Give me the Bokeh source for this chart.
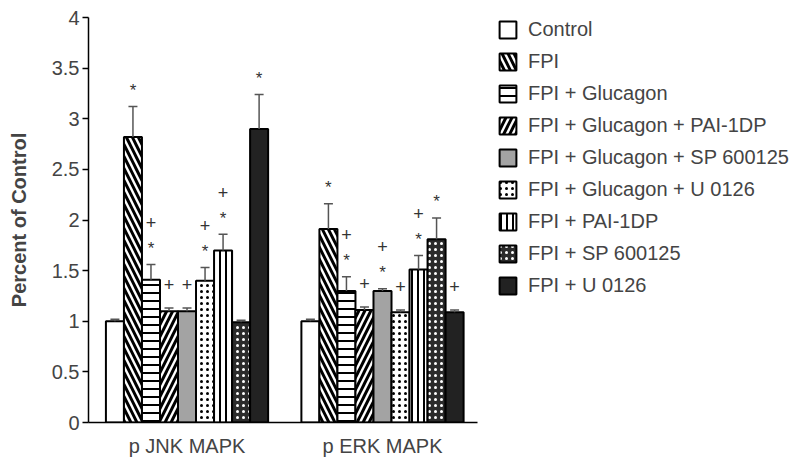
from bokeh.plotting import figure
from bokeh.models import Legend, LegendItem, FixedTicker, ColumnDataSource
from bokeh.core.properties import value
from bokeh.embed import file_html
from bokeh.resources import INLINE

# ---------------- data ----------------
groups = ["p JNK MAPK", "p ERK MAPK"]
treatments = [
    "Control",
    "FPI",
    "FPI + Glucagon",
    "FPI + Glucagon + PAI-1DP",
    "FPI + Glucagon + SP 600125",
    "FPI + Glucagon + U 0126",
    "FPI + PAI-1DP",
    "FPI + SP 600125",
    "FPI + U 0126",
]
jnk_mean = [1.00, 2.82, 1.41, 1.10, 1.10, 1.40, 1.70, 0.99, 2.90]
jnk_err = [0.02, 0.30, 0.15, 0.03, 0.03, 0.13, 0.16, 0.02, 0.34]
erk_mean = [1.00, 1.91, 1.30, 1.11, 1.30, 1.09, 1.51, 1.81, 1.09]
erk_err = [0.02, 0.25, 0.14, 0.03, 0.02, 0.02, 0.14, 0.21, 0.02]
# significance marks: * vs control, + vs FPI
jnk_star = [0, 1, 1, 0, 0, 1, 1, 0, 1]
jnk_plus = [0, 0, 1, 1, 1, 1, 1, 0, 0]
erk_star = [0, 1, 1, 0, 1, 0, 1, 1, 0]
erk_plus = [0, 0, 1, 1, 1, 1, 1, 0, 1]
y_ticks = [0, 0.5, 1, 1.5, 2, 2.5, 3, 3.5, 4]
y_tick_labels = ["0", "0.5", "1", "1.5", "2", "2.5", "3", "3.5", "4"]
y_label = "Percent of Control"

# ---------------- styles ----------------
styles = [
    dict(fill_color="white", hatch_pattern=None),
    dict(fill_color="white", hatch_pattern="left_diagonal_line", hatch_color="black", hatch_weight=3, hatch_scale=12),
    dict(fill_color="white", hatch_pattern="horizontal_line", hatch_color="black", hatch_weight=2, hatch_scale=8),
    dict(fill_color="white", hatch_pattern="right_diagonal_line", hatch_color="black", hatch_weight=3, hatch_scale=12),
    dict(fill_color="#a3a3a3", hatch_pattern=None),
    dict(fill_color="white", hatch_pattern="dot", hatch_color="black", hatch_weight=2.5, hatch_scale=6),
    dict(fill_color="white", hatch_pattern="vertical_line", hatch_color="black", hatch_weight=2, hatch_scale=6),
    dict(fill_color="#2b2b2b", hatch_pattern="dot", hatch_color="white", hatch_weight=2.5, hatch_scale=6),
    dict(fill_color="#222222", hatch_pattern=None),
]

FONT = "Liberation Sans"
n = len(treatments)
bw = 0.0922          # bar width in group units
cap = 0.046          # error cap width

p = figure(
    frame_width=389, frame_height=405,
    x_range=(-0.504, 1.486), y_range=(0, 4),
    output_backend="svg", toolbar_location=None,
    min_border_left=88, min_border_top=17, min_border_bottom=37, min_border_right=10,
)
p.outline_line_color = None
p.grid.grid_line_color = None
p.background_fill_color = "white"

means = [jnk_mean, erk_mean]
errs = [jnk_err, erk_err]
stars = [jnk_star, erk_star]
pluses = [jnk_plus, erk_plus]

items = []
for i, t in enumerate(treatments):
    xs = [g + (i - (n - 1) / 2) * bw for g in range(len(groups))]
    tops = [means[g][i] for g in range(len(groups))]
    e = [errs[g][i] for g in range(len(groups))]
    src = ColumnDataSource(dict(x=xs, top=tops))
    r = p.vbar(x="x", top="top", width=bw, bottom=0, source=src,
               line_color="black", line_width=2, **styles[i])
    items.append(LegendItem(label=t, renderers=[r]))
    hi = [a + b for a, b in zip(tops, e)]
    p.segment(x0=xs, y0=tops, x1=xs, y1=hi, line_color="#555555", line_width=1.5)
    p.segment(x0=[x - cap / 2 for x in xs], y0=hi, x1=[x + cap / 2 for x in xs], y1=hi,
              line_color="#555555", line_width=1.5)
    for g in range(len(groups)):
        s = stars[g][i]
        pl = pluses[g][i]
        if s:
            p.text(x=[xs[g]], y=[hi[g]], text=["*"], text_align="center", text_baseline="middle",
                   y_offset=-16, text_font=value(FONT), text_font_size="17px", text_color="#333333")
        if pl:
            off = -42 if s else -24
            p.text(x=[xs[g]], y=[hi[g]], text=["+"], text_align="center", text_baseline="middle",
                   y_offset=off, text_font=value(FONT), text_font_size="18px", text_color="#333333")

legend = Legend(items=items, location=(20, 125))
legend.border_line_color = None
legend.background_fill_alpha = 0
legend.padding = 0
legend.margin = 0
legend.spacing = 9
legend.glyph_width = 21
legend.glyph_height = 21
legend.label_height = 21
legend.label_standoff = 10
legend.label_text_font = FONT
legend.label_text_font_size = "20px"
legend.label_text_baseline = "middle"
p.add_layout(legend, "right")

# axes
p.yaxis.ticker = FixedTicker(ticks=y_ticks)
p.yaxis.major_label_overrides = dict(zip(y_ticks, y_tick_labels))
p.yaxis.minor_tick_line_color = None
p.yaxis.major_tick_out = 6
p.yaxis.major_tick_in = 0
p.yaxis.major_tick_line_width = 1.5
p.yaxis.axis_line_width = 1.5
p.yaxis.major_label_text_font = FONT
p.yaxis.major_label_text_font_size = "20px"
p.yaxis.major_label_standoff = 3
p.yaxis.axis_label = y_label
p.yaxis.axis_label_text_font = FONT
p.yaxis.axis_label_text_font_style = "bold"
p.yaxis.axis_label_text_font_size = "20px"
p.yaxis.axis_label_standoff = 19

p.xaxis.ticker = FixedTicker(ticks=[0, 1])
p.xaxis.major_label_overrides = {0: groups[0], 1: groups[1]}
p.xaxis.major_tick_line_color = None
p.xaxis.minor_tick_line_color = None
p.xaxis.axis_line_width = 1.5
p.xaxis.major_label_text_font = FONT
p.xaxis.major_label_text_font_size = "20px"
p.xaxis.major_label_standoff = 6

open("out.html", "w").write(file_html(p, INLINE))
